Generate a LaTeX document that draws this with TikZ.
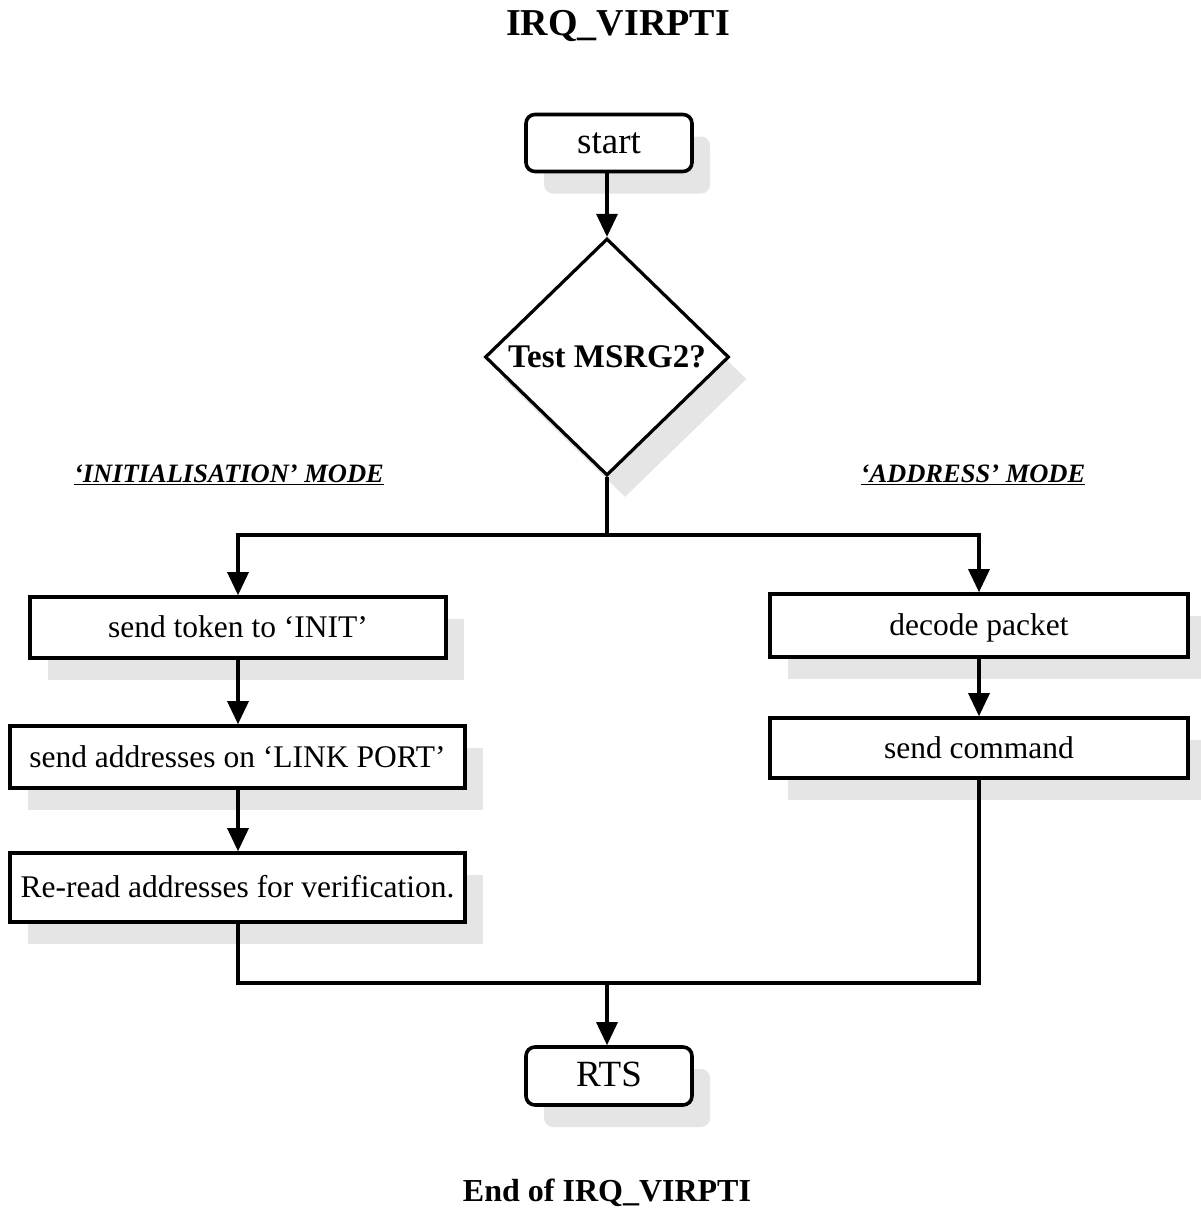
\documentclass[tikz,border=0pt]{standalone}
\usepackage{fontspec}
\setmainfont{Liberation Serif}
\usetikzlibrary{shapes.geometric,arrows.meta,shadows}

\begin{document}
\begin{tikzpicture}[x=1pt,y=-1pt,
  line width=3.2pt,
  flow/.style={draw, line width=3.2pt, -{Triangle[length=23pt,width=21pt]}},
  shade box/.style={drop shadow={shadow xshift=18pt, shadow yshift=-22pt,
      fill=black!10, opacity=1}},
  box/.style={draw, fill=white, line width=3.6pt, rectangle, inner sep=0pt,
      shade box, font=\fontsize{31.5}{36}\selectfont,
      text height=25pt, text depth=5pt},
  term/.style={box, rounded corners=9pt, font=\fontsize{37}{42}\selectfont,
      text height=28pt, text depth=7pt},
  decision/.style={draw, fill=white, line width=3.2pt, diamond, inner sep=0pt,
      shade box, font=\bfseries\fontsize{33}{38}\selectfont},
  modelabel/.style={font=\bfseries\itshape\fontsize{26.5}{30}\selectfont},
  heading/.style={font=\bfseries\fontsize{38}{44}\selectfont}
]
\useasboundingbox (0,0) rectangle (1200,1208);

% titles
\node[heading] (title) at (618,26) {IRQ\_VIRPTI};
\node[heading, font=\bfseries\fontsize{32}{38}\selectfont] (endtitle) at (607,1193) {End of IRQ\_VIRPTI};

% entry and test
\node[term, minimum width=166pt, minimum height=57pt] (start) at (609,143) {start};
\node[decision, minimum width=244pt, minimum height=237pt] (test) at (607,357) {Test MSRG2?};

% mode captions
\node[modelabel] (initmode) at (229,475) {\underline{‘INITIALISATION’ MODE}};
\node[modelabel] (addrmode) at (973,475) {\underline{‘ADDRESS’ MODE}};

% initialisation branch
\node[box, minimum width=416pt, minimum height=61pt] (token) at (238,627.5) {send token to ‘INIT’};
\node[box, minimum width=455pt, minimum height=62pt] (addrs) at (237.5,757) {send addresses on ‘LINK PORT’};
\node[box, minimum width=455pt, minimum height=69pt] (reread) at (237.5,887.5) {Re-read addresses for verification.};

% address branch
\node[box, minimum width=418pt, minimum height=63pt] (packet) at (979,625.5) {decode packet};
\node[box, minimum width=418pt, minimum height=60pt] (command) at (979,748) {send command};

% exit
\node[term, minimum width=166pt, minimum height=58pt] (rts) at (609,1076) {RTS};

% junction points
\coordinate (split) at (607,535);
\coordinate (join) at (607,983);

% connectors
\draw[flow] (start.south -| test.north) -- (test.north);
\draw (test.south) -- (split);
\draw[flow] (split) -| (token.north);
\draw[flow] (split) -| (packet.north);
\draw[flow] (token.south) -- (token.south |- addrs.north);
\draw[flow] (token.south |- addrs.south) -- (token.south |- reread.north);
\draw[flow] (packet.south) -- (command.north);
\draw (token.south |- reread.south) |- (join) -| (command.south);
\draw[flow] (join) -- (join |- rts.north);
\end{tikzpicture}
\end{document}
